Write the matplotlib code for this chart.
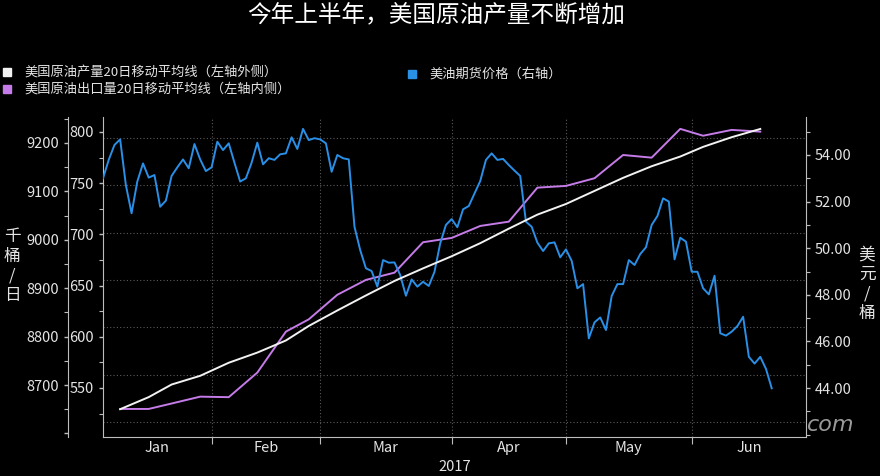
import numpy as np
import pandas as pd
import matplotlib
matplotlib.use("Agg")
import matplotlib.pyplot as plt
from matplotlib.ticker import FixedLocator, MultipleLocator, FuncFormatter
from matplotlib.lines import Line2D

plt.rcParams['font.family'] = ['Noto Sans CJK SC', 'DejaVu Sans']

# trading-day axis (US market holidays skipped)
holidays = ['2017-01-16', '2017-02-20', '2017-05-29']
start = '2017-01-04'

# WTI futures, daily (right axis)
wti_dates = pd.bdate_range('2017-01-04', '2017-06-21', freq='C', holidays=holidays)
wti = [53.00, 53.79, 54.43, 54.67, 52.71, 51.50, 52.86, 53.64, 53.03, 53.14,
       51.78, 52.04, 53.10, 53.47, 53.81, 53.43, 54.47, 53.81, 53.31, 53.47,
       54.57, 54.21, 54.50, 53.67, 52.86, 53.00, 53.67, 54.53, 53.60, 53.86,
       53.79, 54.03, 54.07, 54.76, 54.26, 55.12, 54.64, 54.72, 54.67, 54.50,
       53.28, 54.00, 53.86, 53.81, 50.92, 49.92, 49.14, 49.02, 48.35, 49.49,
       49.38, 49.39, 48.85, 47.96, 48.66, 48.35, 48.56, 48.38, 48.99, 50.21,
       51.00, 51.25, 50.90, 51.67, 51.81, 52.35, 52.88, 53.79, 54.07, 53.79,
       53.83, 53.57, 53.33, 53.10, 51.14, 50.92, 50.24, 49.88, 50.21, 50.25,
       49.61, 49.95, 49.46, 48.28, 48.46, 46.13, 46.82, 47.03, 46.49, 47.95,
       48.46, 48.46, 49.49, 49.28, 49.75, 50.04, 51.00, 51.38, 52.14, 52.00,
       49.52, 50.45, 50.28, 48.99, 48.99, 48.28, 48.02, 48.82, 46.35, 46.25,
       46.42, 46.66, 47.06, 45.34, 45.05, 45.34, 44.82, 43.99]

# weekly 20-day moving averages (left axes)
week_dates = pd.date_range('2017-01-09', '2017-06-19', freq='W-MON')
production = [8650, 8675, 8701, 8719, 8746, 8767, 8792, 8822, 8854, 8885, 8915, 8941,
              8966, 8993, 9023, 9052, 9074, 9101, 9128, 9152, 9172, 9192, 9212, 9229]
exports = [529.5, 529.5, 534.8, 541.5, 541.0, 565.0, 605.0, 617.0, 641.0, 655.5, 662.6, 692.3,
           696.5, 708.2, 712.4, 745.6, 747.3, 754.8, 777.5, 774.9, 803.0, 796.3, 802.0, 800.3]

price_ticks = [44, 46, 48, 50, 52, 54]
month_starts = ['2017-02-01', '2017-03-01', '2017-04-01', '2017-05-01', '2017-06-01']
month_labels = ['Jan', 'Feb', 'Mar', 'Apr', 'May', 'Jun']
axis_end = '2017-06-29'


def tpos(d):
    d = np.asarray(d, dtype='datetime64[D]')
    d = np.busday_offset(d, 0, roll='forward', holidays=holidays)
    return np.busday_count(start, d, holidays=holidays)


x_wti = tpos(wti_dates.values.astype('datetime64[D]'))
x_week = tpos(week_dates.values.astype('datetime64[D]'))
bounds = tpos(month_starts)
x_end = tpos(axis_end)
edges = np.concatenate([[0], bounds, [x_end]])
mids = (edges[:-1] + edges[1:]) / 2

BG = 'black'
SPINE = '#bdbdbd'
TXT = '#e4e4e4'
GRID = '#5a5a5a'

fig = plt.figure(figsize=(8.8, 4.76), dpi=100, facecolor=BG)
ax = fig.add_axes([103 / 880, 1 - 437 / 476, 703 / 880, 320 / 476])
ax.set_facecolor(BG)
ax_r = ax.twinx()
ax_o = ax.twinx()

ax.set_xlim(0, x_end)
ax.set_ylim(502.1, 814.6)
ax_r.set_ylim(41.9, 55.63)
ax_o.set_ylim(8592.6, 9253.7)

# grid
for b in bounds:
    ax.axvline(b, color=GRID, lw=0.8, ls=(0, (1, 2)), zorder=0)
for g in np.arange(42.55, 55, 2.03):
    f = (g - 41.9) / (55.63 - 41.9)
    ax.axhline(502.1 + f * (814.6 - 502.1), color=GRID, lw=0.8, ls=(0, (1, 2)), zorder=0)

ax.plot(x_week, exports, color='#c57be8', lw=1.4)
ax_r.plot(x_wti, wti, color='#2a8fe6', lw=1.4)
ax_o.plot(x_week, production, color='#f2f2f2', lw=1.4)

# spines
for a in (ax, ax_r, ax_o):
    a.spines['top'].set_visible(False)
    for s in a.spines.values():
        s.set_color(SPINE)
ax.spines['right'].set_visible(False)
ax_r.spines['left'].set_visible(False)
ax_r.spines['bottom'].set_visible(False)
ax_o.spines['right'].set_visible(False)
ax_o.spines['bottom'].set_visible(False)
ax_o.spines['left'].set_position(('outward', 25.2))
ax_o.yaxis.set_ticks_position('left')
ax_o.yaxis.set_label_position('left')

# y ticks
ax.yaxis.set_major_locator(MultipleLocator(50))
ax.yaxis.set_minor_locator(MultipleLocator(25))
ax_o.yaxis.set_major_locator(MultipleLocator(100))
ax_o.yaxis.set_minor_locator(MultipleLocator(50))
ax_o.yaxis.set_major_formatter(FuncFormatter(lambda v, p: '' if v < 8650 else f'{v:.0f}'))
ax_r.yaxis.set_major_locator(FixedLocator(price_ticks))
ax_r.yaxis.set_minor_locator(MultipleLocator(1))
ax_r.yaxis.set_major_formatter(FuncFormatter(lambda v, p: f'{v:.2f}'))
for a in (ax, ax_r, ax_o):
    a.tick_params(axis='y', which='major', colors=SPINE, labelcolor=TXT,
                  labelsize=10.5, length=3, width=1)
    a.tick_params(axis='y', which='minor', colors=SPINE, length=3, width=0.8)

# x ticks
ax.xaxis.set_major_locator(FixedLocator(bounds))
ax.xaxis.set_major_formatter(FuncFormatter(lambda v, p: ''))
ax.xaxis.set_minor_locator(FixedLocator(mids))
ax.xaxis.set_minor_formatter(FuncFormatter(lambda v, p: month_labels[p]))
ax.tick_params(axis='x', which='major', colors=SPINE, length=5, width=0.8)
ax.tick_params(axis='x', which='minor', length=0, labelcolor=TXT, labelsize=10.5, pad=3)
ax.set_xlabel('2017', color=TXT, fontsize=10.5, labelpad=3.5)

# axis titles
fig.text(12 / 880, 1 - 266 / 476, '千\n桶\n/\n日', color=TXT, fontsize=12,
         ha='center', va='center', linespacing=1.2)
fig.text(867 / 880, 1 - 284 / 476, '美\n元\n/\n桶', color=TXT, fontsize=12,
         ha='center', va='center', linespacing=1.2)

# title
fig.text(436 / 880, 1 - 16 / 476, '今年上半年，美国原油产量不断增加', color='white',
         fontsize=17, ha='center', va='center')

# legend
legend = [('美国原油产量20日移动平均线（左轴外侧）', '#f2f2f2', 7, 72),
          ('美国原油出口量20日移动平均线（左轴内侧）', '#c57be8', 7, 89),
          ('美油期货价格（右轴）', '#2a8fe6', 412, 74)]
for label, c, px, py in legend:
    fig.add_artist(Line2D([px / 880], [1 - py / 476], marker='s', markersize=5.5,
                          color=c, transform=fig.transFigure))
    fig.text((px + 17) / 880, 1 - py / 476, label, color=TXT, fontsize=9.5,
             ha='left', va='center')

fig.text(807 / 880, 1 - 425 / 476, 'com', color='#9a9a9a', fontsize=16,
         style='italic', ha='left', va='center', family='DejaVu Sans')

fig.savefig('out.png', dpi=100, facecolor=BG)
